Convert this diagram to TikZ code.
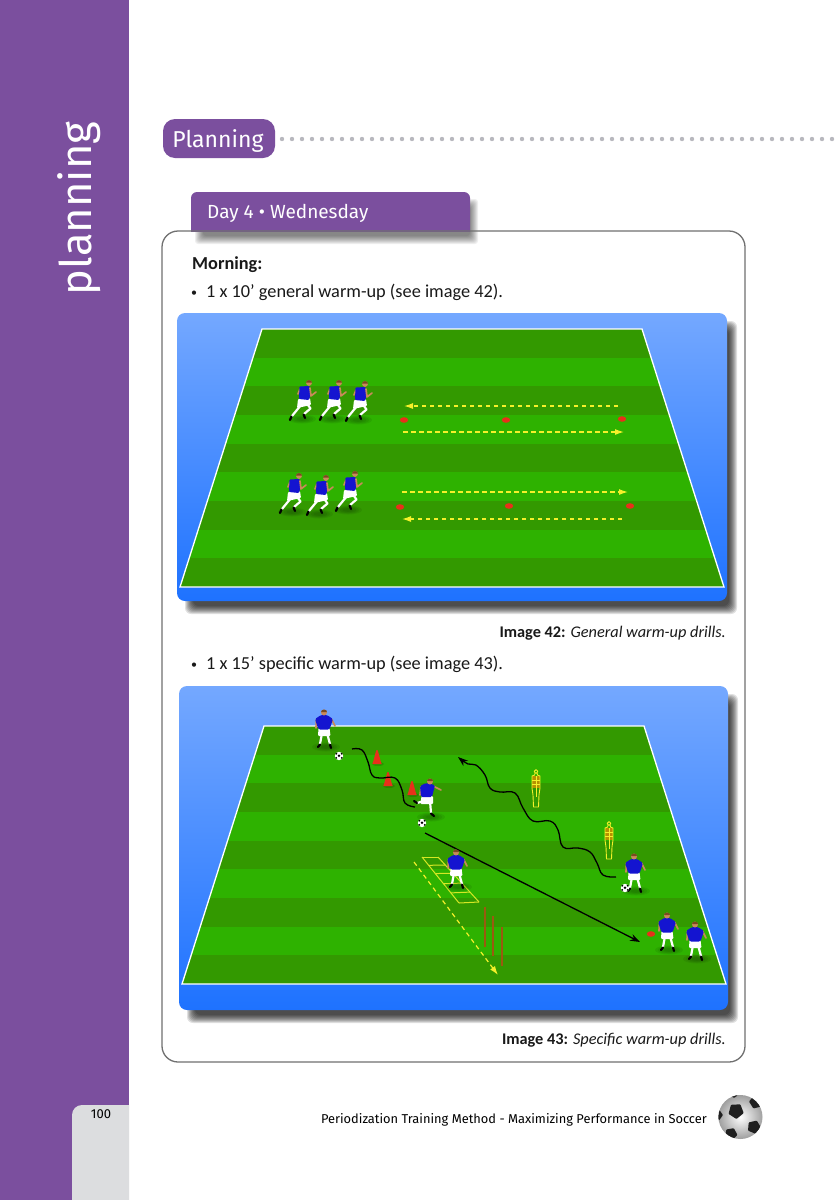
\documentclass[tikz,border=0pt]{standalone}
\usepackage{fontspec}
\setmainfont{Carlito}
\newfontfamily\headfont{Fira Sans}
\usetikzlibrary{arrows.meta,shapes.geometric,calc}
\definecolor{bookpurple}{HTML}{7B4F9E}
\definecolor{tabgrey}{HTML}{DCDDDF}
\definecolor{rimgrey}{HTML}{707070}
\definecolor{dotgrey}{HTML}{B8B8BE}
\definecolor{skyhi}{HTML}{74A8FF}
\definecolor{skylo}{HTML}{1E72FF}
\definecolor{turfdark}{HTML}{339900}
\definecolor{turflight}{HTML}{2EB200}
\definecolor{kit}{HTML}{1414D0}
\definecolor{skin}{HTML}{C88A5A}
\definecolor{hair}{HTML}{7A4A20}
\definecolor{marker}{HTML}{E8301A}
\definecolor{drillyellow}{HTML}{F4F02A}
\definecolor{polebrown}{HTML}{9A5A10}
\tikzset{
  pill/.style={fill=bookpurple,draw=none},
  bodytext/.style={anchor=base west,inner sep=0pt,font=\fontsize{18.3}{20}\selectfont,text=black!90},
  captiontext/.style={anchor=base east,inner sep=0pt,font=\fontsize{16.3}{20}\selectfont,text=black!90},
  headtext/.style={inner sep=0pt,text=white},
  dashrun/.style={drillyellow,line width=1.2pt,dash pattern=on 4.5pt off 3.5pt,-{Latex[length=9pt,width=6pt]}},
  solidrun/.style={black,line width=1.3pt,-{Stealth[length=10pt,width=7pt]}},
  limb/.style={line width=2.2pt,line cap=round,line join=round},
  arm/.style={skin,line width=1.7pt,line cap=round,line join=round},
  pitchline/.style={white,line width=1.3pt,line join=miter},
  turfshade/.style={black,opacity=.07},
  pics/groundshade/.style={code={
    \foreach \k in {1,.8,.6,.4}{
      \fill[turfshade] (0,0) ellipse [x radius={\k*14},y radius={\k*4.5}];
    }
  }},
  pics/runner/.style={code={
    \pic at (-3,26) {groundshade};
    \draw[limb,white] (-4,12) -- (-13,23);
    \draw[limb,black] (-13.5,23.5) -- (-15,27);
    \draw[limb,white] (3,12) -- (5.5,15.5) -- (-1,21);
    \draw[limb,black] (-1.4,21.5) -- (0,25);
    \fill[white,rounded corners=1pt] (-7,6) -- (5,5) -- (6,12) -- (-1,13.5) -- (-8,15) -- cycle;
    \draw[arm] (-5,-4) -- (-7,1);
    \fill[kit,rounded corners=1pt] (-5.5,-6.5) -- (4.5,-7) -- (6,-1) -- (4,7) -- (-6,6) -- cycle;
    \draw[arm] (5,-5) -- (6,3) -- (11,-1);
    \fill[skin] (4,-10) circle (2.9);
    \fill[hair] (1.1,-10.5) arc (180:360:2.9 and 2.4) -- cycle;
  }},
  pics/stander/.style={code={
    \pic at (2,24) {groundshade};
    \draw[limb,white] (-2,10) -- (-4,21);
    \draw[limb,black] (-4,21.5) -- (-6,24);
    \draw[limb,white] (3,10) -- (6,21);
    \draw[limb,black] (6,21.5) -- (7,25);
    \fill[white,rounded corners=1pt] (-5.5,5) -- (5.5,5) -- (6.5,13) -- (-6,13) -- cycle;
    \draw[arm] (-7.5,-4) -- (-8,5);
    \draw[arm] (7.5,-4) -- (11,3);
    \fill[kit,rounded corners=1.5pt] (-9,-4) -- (-3,-8) -- (3,-8) -- (9,-4) -- (5.5,6.5) -- (-5.5,6.5) -- cycle;
    \fill[skin] (0,-10.5) circle (3);
    \fill[hair] (-3,-11) arc (180:360:3 and 2.5) -- cycle;
  }},
  pics/kicker/.style={code={
    \pic at (4,25) {groundshade};
    \draw[limb,white] (-3,9) -- (-10,11);
    \draw[limb,black] (-10,11) -- (-13,9);
    \draw[limb,white] (3,9) -- (4,21);
    \draw[limb,black] (4,21.5) -- (7,24);
    \fill[white,rounded corners=1pt] (-5.5,4) -- (6,4) -- (6,12) -- (-6.5,12) -- cycle;
    \draw[arm] (-6,-5) -- (-7,3);
    \draw[arm] (6,-6) -- (14,-2);
    \fill[kit,rounded corners=1.5pt] (-7,-6) -- (-1,-9) -- (8,-7) -- (5,5) -- (-6,5) -- cycle;
    \fill[skin] (3,-10.5) circle (3);
    \fill[hair] (0,-11) arc (180:360:3 and 2.5) -- cycle;
  }},
  pics/cone/.style={code={
    \fill[black,opacity=.15] (1,1) ellipse [x radius=6,y radius=2];
    \fill[marker,rounded corners=.6pt] (-5,1.2) -- (-4,-.6) -- (-.7,-13) -- (.7,-13) -- (4,-.6) -- (5,1.2) -- cycle;
  }},
  pics/disc/.style={code={
    \fill[marker] (0,0) ellipse [x radius=4.2,y radius=2.8];
  }},
  pics/footy/.style={code={
    \fill[white] (0,0) circle (4.2);
    \fill[black] (0,-.3) circle (1.4) (-2.8,1.9) circle (1) (2.8,1.9) circle (1) (-2.7,-2.3) circle (1) (2.7,-2.3) circle (1);
  }},
  pics/dummy/.style={code={
    \fill[orange!65!turflight] (-4,-31) rectangle (4,-19);
    \draw[drillyellow,line width=.9pt,line join=round]
      (0,-35.5) circle (1.9)
      (-1.3,-33.6) -- (-1.3,-32) -- (-4,-31) -- (-4,-19) -- (-3,-12) -- (-2.5,0) -- (2.5,0) -- (3,-12) -- (4,-19) -- (4,-31) -- (1.3,-32) -- (1.3,-33.6);
    \draw[drillyellow,line width=.5pt] (-4,-27) -- (4,-27) (-4,-23) -- (4,-23) (0,-31) -- (0,-10);
  }},
}
% soft drop shadow made of stacked translucent rounded boxes
\newcommand{\softbox}[6]{%
  \foreach \g in {-4,-3,-2,-1,0,1,2,3,4}{
    \fill[black,opacity=#6,rounded corners=#5pt] ({#1-\g},{#2-\g}) rectangle ({#3+\g},{#4+\g});
  }}
% sky-blue panel with a striped pitch; arguments: panel box, then top-left of the pitch
\newcommand{\pitchpanel}[6]{%
  \softbox{#1+12}{#2+12}{#3+6}{#4+9}{6}{.12}
  \shade[top color=skyhi,bottom color=skylo,rounded corners=8pt] (#1,#2) rectangle (#3,#4);
  \begin{scope}
    \clip (#5,#6) -- ({#5+380},#6) -- ({#5+462},{#6+258}) -- ({#5-82},{#6+258}) -- cycle;
    \fill[turfdark] ({#5-90},#6) rectangle ({#5+470},{#6+258});
    \foreach \b in {1,3,5,7}{
      \fill[turflight] ({#5-90},{#6+\b*28.67}) rectangle ({#5+470},{#6+(\b+1)*28.67});
    }
  \end{scope}
  \draw[pitchline] (#5,#6) -- ({#5+380},#6) -- ({#5+462},{#6+258}) -- ({#5-82},{#6+258}) -- cycle;
}
\begin{document}
\begin{tikzpicture}[x=1pt,y=-1pt]
\useasboundingbox (0,0) rectangle (840,1200);
\fill[white] (0,0) rectangle (840,1200);

% side band
\fill[bookpurple] (0,0) rectangle (129,1200);
\begin{scope}
  \clip (60,1100) rectangle (129,1200);
  \fill[tabgrey,rounded corners=10pt] (72,1105) rectangle (170,1240);
\end{scope}
\node[headtext,rotate=90,anchor=base,font=\headfont\fontsize{43.5}{50}\selectfont] (bandtitle) at (91,208.5) {planning};
\node[inner sep=0pt,font=\headfont\fontsize{13}{15}\selectfont,text=black] (pageno) at (101,1114) {100};

% section heading with dotted rule
\fill[pill,rounded corners=12pt] (163,119) rectangle (275,158);
\node[headtext,font=\headfont\fontsize{23}{28}\selectfont] (sechead) at (218,141) {Planning};
\foreach \d in {0,...,55}{
  \fill[dotgrey] ({282+10*\d},139) circle (2.2);
}

% day tab and outer frame
\softbox{199}{203}{474}{240}{3}{.065}
\begin{scope}
  \clip (185,185) rectangle (480,231);
  \fill[pill,rounded corners=6pt] (191,192) rectangle (470,250);
\end{scope}
\node[headtext,anchor=base west,font=\headfont\fontsize{19}{22}\selectfont] (dayhead) at (207,218) {Day 4 • Wednesday};
\draw[rimgrey,line width=1.3pt,rounded corners=16pt] (162,231) rectangle (745,1062);

% first block of text
\node[bodytext,font=\bfseries\fontsize{18.3}{20}\selectfont] (morning) at (192,269) {Morning:};
\node[bodytext,font=\fontsize{12}{14}\selectfont] (bulletA) at (191,296) {•};
\node[bodytext] (lineA) at (206,297) {1 x 10’ general warm-up (see image 42).};

% general warm-up drill
\pitchpanel{177}{313}{727}{601}{262}{329}
\foreach \px/\py in {305/393,335/393,361/394,295/486,322/488,351/484}{
  \pic at (\px,\py) {runner};
}
\foreach \px/\py in {404/420,506/420,622/419,400/507,509/506,630/506}{
  \pic at (\px,\py) {disc};
}
\coordinate (rowAs) at (618,406); \coordinate (rowAe) at (404,406);
\coordinate (rowBs) at (403,432); \coordinate (rowBe) at (624,432);
\coordinate (rowCs) at (402,492); \coordinate (rowCe) at (628,492);
\coordinate (rowDs) at (622,519); \coordinate (rowDe) at (402,519);
\draw[dashrun] (rowAs) -- (rowAe);
\draw[dashrun] (rowBs) -- (rowBe);
\draw[dashrun] (rowCs) -- (rowCe);
\draw[dashrun] (rowDs) -- (rowDe);

\node[captiontext] (capA) at (726,637) {\textbf{Image 42:} \textit{General warm-up drills.}};
\node[bodytext,font=\fontsize{12}{14}\selectfont] (bulletB) at (191,668) {•};
\node[bodytext] (lineB) at (206,669) {1 x 15’ specific warm-up (see image 43).};

% specific warm-up drill
\pitchpanel{179}{686}{728}{1010}{264}{726}

% speed ladder
\coordinate (ladTL) at (422,857); \coordinate (ladTR) at (438,857);
\coordinate (ladBL) at (459,903); \coordinate (ladBR) at (479,902);
\draw[drillyellow!85!turflight,line width=1pt] (ladTL) -- (ladBL) (ladTR) -- (ladBR);
\foreach \t in {0,.18,.36,.58,.78,1}{
  \draw[drillyellow!85!turflight,line width=1pt] ($(ladTL)!\t!(ladBL)$) -- ($(ladTR)!\t!(ladBR)$);
}
% poles
\foreach \px/\pa/\pb in {485/907/947,493/916/956,502/927/966}{
  \draw[polebrown,line width=1.4pt] (\px,\pa) -- (\px,\pb);
}
% runs and passes
\coordinate (dashS) at (414,862); \coordinate (dashE) at (498,975);
\draw[dashrun] (dashS) -- (dashE);
\coordinate (passS) at (425,833); \coordinate (passE) at (640,942);
\draw[solidrun] (passS) -- (passE);

\pic at (377,763) {cone};
\pic at (388,785) {cone};
\pic at (412,794) {cone};
\pic at (651,934) {disc};
\pic at (536,807) {dummy};
\pic at (609,859) {dummy};

\draw[black,line width=1.3pt] plot[smooth,tension=.7] coordinates {(352,749) (362,750) (368,762) (372,775) (380,778) (395,778) (402,790) (405,803) (415,807)};
\draw[solidrun] plot[smooth,tension=.7] coordinates {(616,877) (603,875) (597,863) (590,852) (578,848) (563,847) (558,830) (550,821) (533,821) (523,808) (515,793) (500,792) (490,788) (485,775) (476,765) (468,764) (458,757)};

\pic at (324,723) {stander};
\pic at (427,792) {kicker};
\pic at (456,863) {stander};
\pic at (634,867) {stander};
\pic at (667,926) {stander};
\pic at (695,935) {stander};

\pic at (339,756) {footy};
\pic at (422,823) {footy};
\pic at (625,888) {footy};

\node[captiontext] (capB) at (726,1044) {\textbf{Image 43:} \textit{Specific warm-up drills.}};

% footer line and ball
\node[anchor=base east,inner sep=0pt,font=\headfont\fontsize{12.85}{16}\selectfont,text=black] (footer) at (707,1123) {Periodization Training Method - Maximizing Performance in Soccer};
\begin{scope}
  \clip (740.5,1117) circle (22);
  \shade[inner color=white,outer color=black!38] (718,1095) rectangle (763,1139);
  \foreach \cx/\cy/\cr/\ca in {736/1111/8/15,754/1127/7/5,731/1134/6.5/80,756/1102/7/40,717/1115/6/0,734/1092/6/90}{
    \fill[black!88,rounded corners=.8pt] ({\cx+\cr*cos(\ca)},{\cy+\cr*sin(\ca)})
      -- ({\cx+\cr*cos(\ca+72)},{\cy+\cr*sin(\ca+72)})
      -- ({\cx+\cr*cos(\ca+144)},{\cy+\cr*sin(\ca+144)})
      -- ({\cx+\cr*cos(\ca+216)},{\cy+\cr*sin(\ca+216)})
      -- ({\cx+\cr*cos(\ca+288)},{\cy+\cr*sin(\ca+288)}) -- cycle;
  }
\end{scope}
\end{tikzpicture}
\end{document}
